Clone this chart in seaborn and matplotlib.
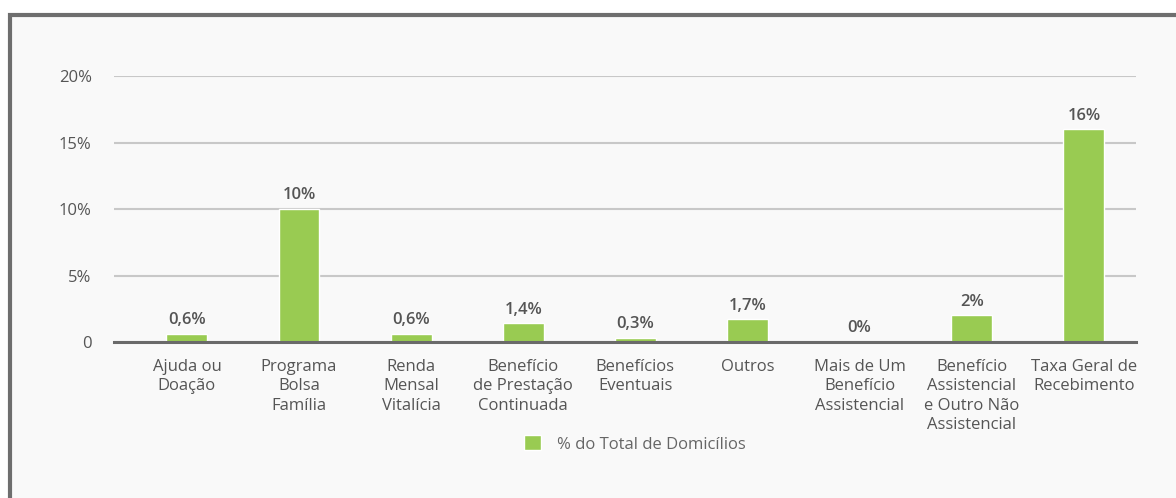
import matplotlib
matplotlib.use("Agg")
import matplotlib.pyplot as plt
from matplotlib.patches import Rectangle
import seaborn as sns
import pandas as pd

categories = [
    "Ajuda ou\nDoação",
    "Programa\nBolsa\nFamília",
    "Renda\nMensal\nVitalícia",
    "Benefício\nde Prestação\nContinuada",
    "Benefícios\nEventuais",
    "Outros",
    "Mais de Um\nBenefício\nAssistencial",
    "Benefício\nAssistencial\ne Outro Não\nAssistencial",
    "Taxa Geral de\nRecebimento",
]
values = [0.6, 10, 0.6, 1.4, 0.3, 1.7, 0, 2, 16]
value_labels = ["0,6%", "10%", "0,6%", "1,4%", "0,3%", "1,7%", "0%", "2%", "16%"]
y_ticks = [0, 5, 10, 15, 20]
y_tick_labels = ["0", "5%", "10%", "15%", "20%"]
series_name = "% do Total de Domicílios"

GREEN = "#99cb52"
TEXT = "#555555"
FS = 12

sns.set_theme(style="white")
plt.rcParams["font.family"] = ["Open Sans", "DejaVu Sans"]

df = pd.DataFrame({"categoria": categories, "valor": values})

fig = plt.figure(figsize=(11.76, 4.98), dpi=100)
fig.patch.set_facecolor("white")

# panel background with dark frame on top and left
panel = Rectangle((10 / 1176, -0.05), 1.2, (1 - 15 / 498) + 0.05,
                  transform=fig.transFigure, facecolor="#f9f9f9",
                  edgecolor="#6e6e6e", linewidth=3, zorder=-5)
fig.patches.append(panel)

ax = fig.add_axes([114 / 1176, 1 - 342 / 498, (1136 - 114) / 1176, (342 - 76) / 498])
ax.set_zorder(2)
ax.set_facecolor("none")

sns.barplot(data=df, x="categoria", y="valor", color=GREEN, width=0.365,
            saturation=1, ax=ax, label=series_name, zorder=3)

ax.set_ylim(0, 20)
ax.set_xlim(-0.65, len(categories) - 0.535)
ax.set_yticks(y_ticks)
ax.set_yticklabels(y_tick_labels)
ax.grid(axis="y", color="#c8c8c8", linewidth=1.5, zorder=0)
ax.set_axisbelow(True)
for s in ["top", "right", "left"]:
    ax.spines[s].set_visible(False)
ax.spines["bottom"].set_color("#6a6a6a")
ax.spines["bottom"].set_linewidth(2.2)
ax.spines["bottom"].set_zorder(4)
ax.tick_params(axis="y", length=0, pad=16, labelsize=FS, labelcolor=TEXT)
ax.tick_params(axis="x", length=0, pad=12, labelsize=FS, labelcolor=TEXT)
for lbl in ax.get_xticklabels():
    lbl.set_linespacing(1.3)
ax.set_xlabel("")
ax.set_ylabel("")

ax.bar_label(ax.containers[0], labels=value_labels, padding=4,
             fontsize=FS, color=TEXT, fontweight="semibold")

if ax.get_legend() is not None:
    ax.get_legend().remove()
handles, labels = ax.get_legend_handles_labels()
fig.legend(handles, labels, loc="center", bbox_to_anchor=(635 / 1176, 1 - 444 / 498),
           frameon=False, fontsize=FS, labelcolor="#666666",
           handlelength=1.0, handleheight=1.0, handletextpad=1.0)

fig.savefig("out.png", dpi=100, facecolor=fig.get_facecolor())
